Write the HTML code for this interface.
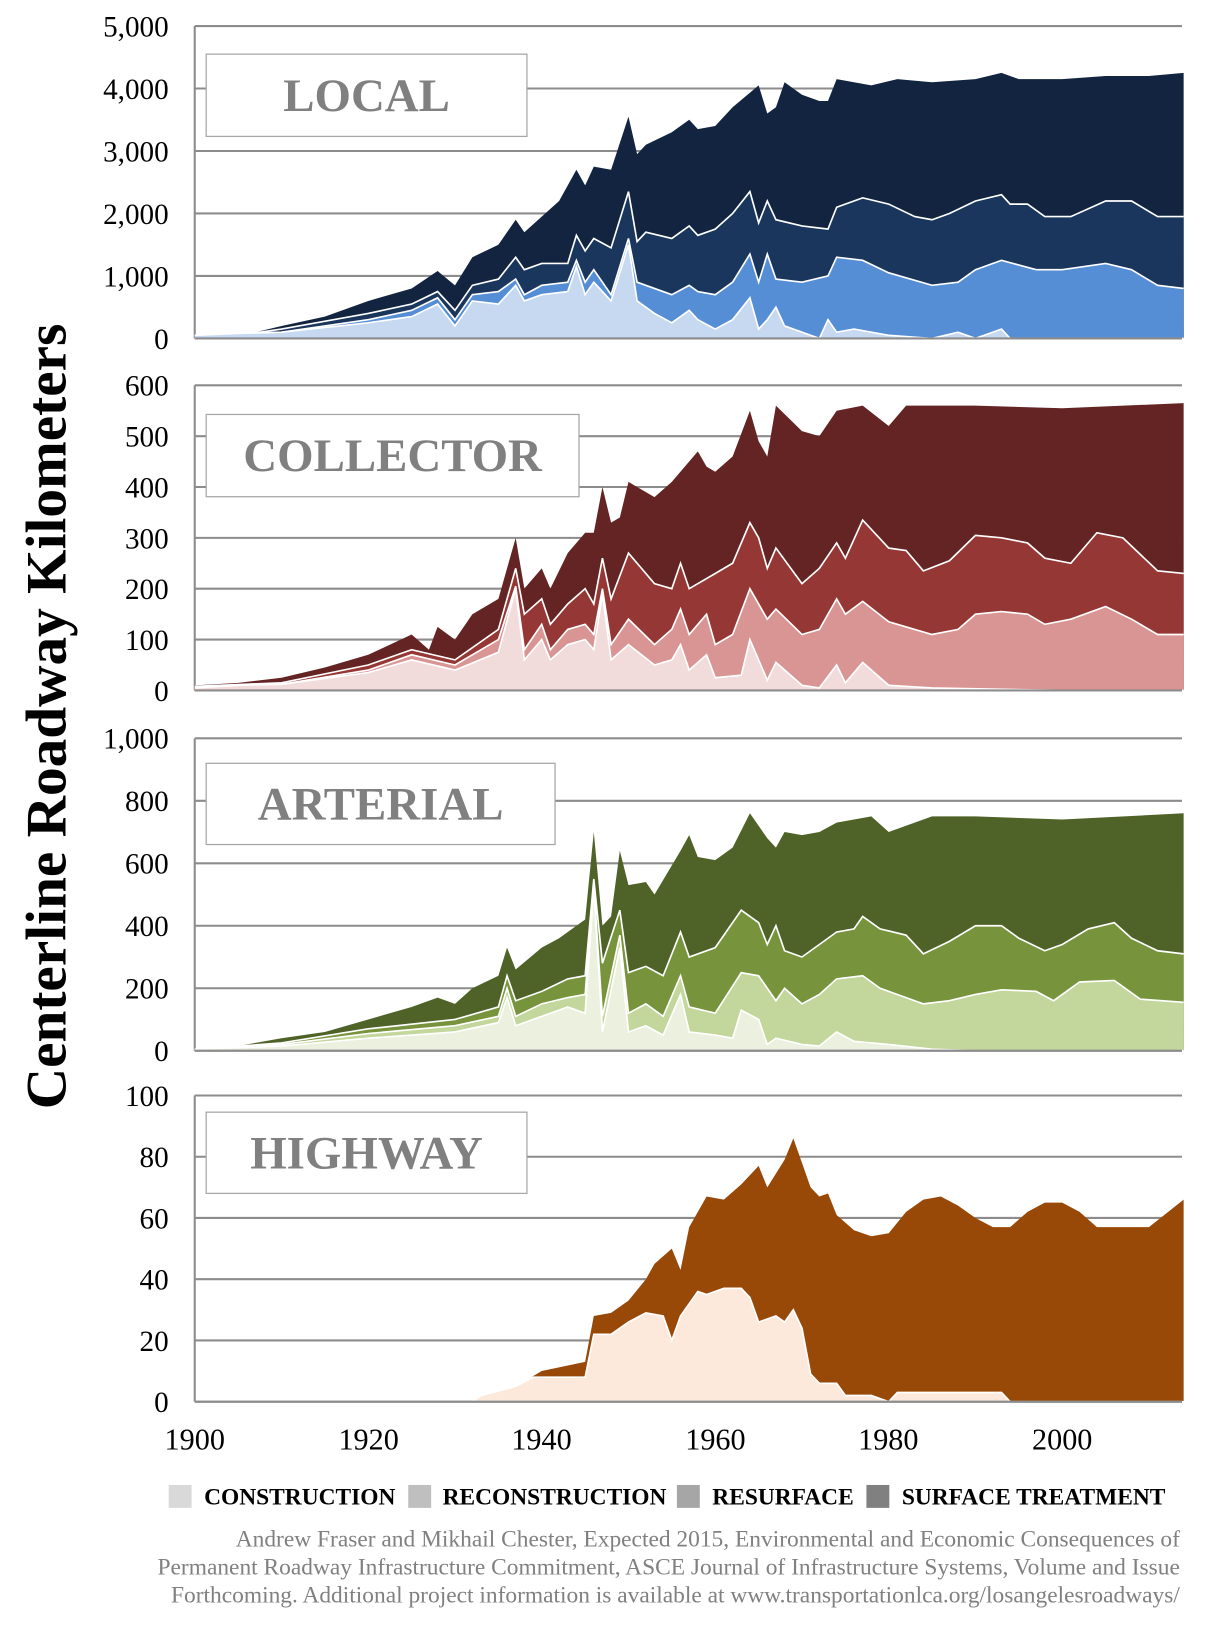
<!DOCTYPE html>
<html><head><meta charset="utf-8"><style>
html,body{margin:0;padding:0;background:#fff}
svg{display:block}
</style></head><body>
<svg id="s" width="1208" height="1647" viewBox="0 0 1160 1581.6" preserveAspectRatio="none" xmlns="http://www.w3.org/2000/svg" font-family="'Liberation Serif',serif">
<g id="plots"></g>
<g font-size="28" fill="#000" text-anchor="end" id="ticks"></g>
<text transform="translate(63,688) rotate(-90)" text-anchor="middle" font-size="55" font-weight="bold">Centerline Roadway Kilometers</text>
<g font-size="29" text-anchor="middle">
<text x="187" y="1392">1900</text><text x="354" y="1392">1920</text><text x="520" y="1392">1940</text><text x="687" y="1392">1960</text><text x="853" y="1392">1980</text><text x="1020" y="1392">2000</text>
</g>
<g font-size="22.5" font-weight="bold">
<rect x="162" y="1426" width="22" height="22" fill="#d9d9d9"/><text x="196" y="1445">CONSTRUCTION</text>
<rect x="392" y="1426" width="22" height="22" fill="#bfbfbf"/><text x="425" y="1445">RECONSTRUCTION</text>
<rect x="650" y="1426" width="22" height="22" fill="#a6a6a6"/><text x="684" y="1445">RESURFACE</text>
<rect x="832" y="1426" width="22" height="22" fill="#808080"/><text x="866" y="1445">SURFACE TREATMENT</text>
</g>
<g font-size="22.5" fill="#808080" text-anchor="end">
<text x="1133" y="1485">Andrew Fraser and Mikhail Chester, Expected 2015, Environmental and Economic Consequences of</text>
<text x="1133" y="1512">Permanent Roadway Infrastructure Commitment, ASCE Journal of Infrastructure Systems, Volume and Issue</text>
<text x="1133" y="1539">Forthcoming. Additional project information is available at www.transportationlca.org/losangelesroadways/</text>
</g>
</svg>
<script>
function X(y){return 187+(y-1900)*8.33;}
function P(a){var r=[];for(var i=0;i<a.length;i+=2)r.push([a[i],a[i+1]]);return r;}
var panels=[
{y0:325,top:25,vmax:5000,step:1000,label:"LOCAL",box:[198,52,308,79],
 cols:["#12243f","#1a365d","#558ed5","#c6d9f1"],
 s:[P([1900,0,1905,50,1907,100,1910,200,1915,350,1920,600,1925,800,1928,1080,1930,850,1932,1300,1935,1500,1937,1900,1938,1700,1940,1950,1942,2200,1944,2700,1945,2450,1946,2750,1948,2700,1950,3550,1951,2950,1952,3100,1955,3300,1957,3500,1958,3350,1960,3400,1962,3700,1965,4050,1966,3600,1967,3700,1968,4100,1970,3900,1972,3800,1973,3800,1974,4150,1978,4050,1981,4150,1985,4100,1990,4150,1993,4250,1995,4150,2000,4150,2005,4200,2010,4200,2014,4250]),
 P([1900,0,1905,50,1907,90,1910,150,1920,400,1925,550,1928,750,1930,450,1932,850,1935,950,1937,1300,1938,1100,1940,1200,1943,1200,1944,1650,1945,1400,1946,1600,1948,1450,1950,2350,1951,1550,1952,1700,1955,1600,1957,1800,1958,1650,1960,1750,1962,2000,1964,2350,1965,1850,1966,2200,1967,1900,1970,1800,1973,1750,1974,2100,1977,2250,1980,2150,1983,1950,1985,1900,1987,2000,1990,2200,1993,2300,1994,2150,1996,2150,1998,1950,2001,1950,2005,2200,2008,2200,2011,1950,2014,1950]),
 P([1900,0,1905,50,1907,80,1910,100,1920,300,1925,450,1928,650,1930,300,1932,700,1935,750,1937,950,1938,700,1940,850,1943,900,1944,1250,1945,900,1946,1100,1948,700,1950,1600,1951,900,1955,700,1957,850,1958,750,1960,700,1962,900,1964,1350,1965,900,1966,1350,1967,950,1970,900,1973,1000,1974,1300,1977,1250,1980,1050,1985,850,1988,900,1990,1100,1993,1250,1997,1100,2000,1100,2005,1200,2008,1100,2011,850,2014,800]),
 P([1900,50,1905,80,1910,100,1920,250,1925,350,1928,550,1930,200,1932,600,1935,550,1937,850,1938,600,1940,700,1943,750,1944,1150,1945,700,1946,900,1948,600,1950,1500,1951,600,1953,400,1955,250,1957,450,1958,300,1960,150,1962,300,1964,650,1965,150,1966,300,1967,500,1968,200,1970,100,1972,0,1973,300,1974,100,1976,150,1980,50,1985,0,1988,100,1990,0,1993,150,1994,0,2014,0])]},
{y0:663,top:370,vmax:600,step:100,label:"COLLECTOR",box:[198,398,358,79],
 cols:["#632423","#953735","#d99594","#f2dcdb"],
 s:[P([1900,10,1905,15,1910,25,1915,45,1920,70,1925,110,1927,80,1928,125,1930,100,1932,150,1935,180,1937,300,1938,200,1940,240,1941,200,1943,270,1945,310,1946,310,1947,400,1948,330,1949,340,1950,410,1953,380,1955,410,1958,470,1959,440,1960,430,1962,460,1964,550,1965,490,1966,460,1967,560,1970,510,1972,500,1974,550,1977,560,1980,520,1982,560,1990,560,2000,555,2014,565]),
 P([1900,8,1910,15,1920,50,1925,80,1930,60,1935,120,1937,240,1938,150,1940,180,1941,130,1943,170,1945,200,1946,170,1947,260,1948,180,1950,270,1953,210,1955,200,1956,250,1957,200,1960,230,1962,250,1964,330,1965,300,1966,240,1967,280,1970,210,1972,240,1974,290,1975,260,1977,335,1980,280,1982,275,1984,235,1987,255,1990,305,1993,300,1996,290,1998,260,2001,250,2004,310,2007,300,2011,235,2014,230]),
 P([1900,6,1910,12,1920,40,1925,70,1930,50,1935,100,1937,205,1938,80,1940,130,1941,80,1943,120,1945,130,1946,110,1947,200,1948,90,1950,140,1953,90,1955,120,1956,160,1957,110,1959,150,1960,90,1962,110,1964,200,1966,140,1967,160,1970,110,1972,120,1974,180,1975,150,1977,175,1980,135,1983,120,1985,110,1988,120,1990,150,1993,155,1996,150,1998,130,2001,140,2005,165,2008,140,2011,110,2014,110]),
 P([1900,5,1905,10,1910,12,1920,35,1925,60,1930,40,1935,75,1937,200,1938,60,1940,100,1941,60,1943,90,1945,100,1946,80,1947,190,1948,60,1950,90,1953,50,1955,60,1956,90,1957,40,1959,70,1960,25,1963,30,1964,100,1966,20,1967,55,1970,10,1972,5,1974,50,1975,15,1977,55,1980,10,1985,5,2000,0,2014,0])]},
{y0:1009,top:709,vmax:1000,step:200,label:"ARTERIAL",box:[198,733,335,78],
 cols:["#4f6228","#77933c","#c3d69b","#ebf1de"],
 s:[P([1900,5,1905,15,1910,40,1915,60,1920,100,1925,140,1928,170,1930,150,1932,200,1935,240,1936,330,1937,260,1940,330,1942,360,1944,400,1945,420,1946,700,1947,400,1948,430,1949,640,1950,530,1952,540,1953,500,1956,640,1957,690,1958,620,1960,610,1962,650,1964,760,1966,680,1967,650,1968,700,1970,690,1972,700,1974,730,1978,750,1980,700,1985,750,1990,750,2000,740,2014,760]),
 P([1900,4,1910,25,1920,70,1930,100,1935,140,1936,240,1937,160,1940,190,1943,230,1945,240,1946,550,1947,280,1949,450,1950,250,1952,270,1954,240,1956,380,1957,300,1960,330,1963,450,1965,410,1966,340,1967,400,1968,320,1970,300,1972,340,1974,380,1976,390,1977,430,1979,390,1982,370,1984,310,1987,350,1990,400,1993,400,1995,360,1998,320,2000,340,2003,390,2006,410,2008,360,2011,320,2014,310]),
 P([1900,4,1910,20,1920,55,1930,80,1935,110,1936,200,1937,110,1940,150,1943,170,1945,180,1946,530,1947,110,1949,370,1950,120,1952,150,1954,110,1956,240,1957,140,1960,120,1963,250,1965,240,1967,160,1968,200,1970,150,1972,180,1974,230,1977,240,1979,200,1982,170,1984,150,1987,160,1990,180,1993,195,1997,190,1999,160,2002,220,2006,225,2009,165,2014,155]),
 P([1900,5,1910,15,1920,40,1930,60,1935,90,1936,170,1937,80,1940,110,1943,140,1945,120,1946,520,1947,60,1949,330,1950,60,1952,80,1954,50,1956,180,1957,60,1960,50,1962,40,1963,130,1965,100,1966,20,1967,40,1970,20,1972,15,1974,60,1976,30,1980,20,1985,5,1990,0,2014,0])]},
{y0:1346,top:1052,vmax:100,step:20,label:"HIGHWAY",box:[198,1068,308,78],
 cols:["#984807","#fde9db"],
 s:[P([1900,0,1932,0,1933,2,1937,5,1940,10,1945,13,1946,28,1948,29,1950,33,1952,40,1953,45,1955,50,1956,43,1957,57,1959,67,1961,66,1963,71,1965,77,1966,70,1968,79,1969,86,1971,70,1972,67,1973,68,1974,61,1976,56,1978,54,1980,55,1982,62,1984,66,1986,67,1988,64,1990,60,1992,57,1994,57,1996,62,1998,65,2000,65,2002,62,2004,57,2006,57,2010,57,2014,66]),
 P([1900,0,1932,0,1933,2,1937,5,1939,8,1945,8,1946,22,1948,22,1950,26,1952,29,1954,28,1955,20,1956,28,1958,36,1959,35,1961,37,1963,37,1964,34,1965,26,1967,28,1968,26,1969,30,1970,24,1971,9,1972,6,1974,6,1975,2,1978,2,1980,0,1981,3,1993,3,1994,0,2014,0])]}
];
var g=document.getElementById("plots"),tk=document.getElementById("ticks"),h="",t="";
panels.forEach(function(p){
 var Y=function(v){return p.y0-(v/p.vmax)*(p.y0-p.top);};
 for(var v=0;v<=p.vmax;v+=p.step){
  var y=Y(v);
  h+='<line x1="187" x2="1135" y1="'+y+'" y2="'+y+'" stroke="#8c8c8c" stroke-width="2"/>';
  var lab=v>=1000?(Math.floor(v/1000)+","+String(v%1000).padStart(3,"0")):String(v);
  t+='<text x="162" y="'+(y+10)+'">'+lab+'</text>';
 }
 h+='<line x1="187" x2="187" y1="'+p.top+'" y2="'+p.y0+'" stroke="#8c8c8c" stroke-width="2"/>';
 p.s.forEach(function(s,i){
  var pts=s.map(function(q){return X(q[0]).toFixed(1)+","+Y(q[1]).toFixed(1);});
  var d="M"+X(s[0][0])+","+p.y0+" L"+pts.join(" L")+" L"+X(s[s.length-1][0])+","+p.y0+"Z";
  h+='<path d="'+d+'" fill="'+p.cols[i]+'"/>';
  if(i>0)h+='<polyline points="'+pts.join(" ")+'" fill="none" stroke="#fff" stroke-width="1.6"/>';
 });
 h+='<line x1="187" x2="1135" y1="'+p.y0+'" y2="'+p.y0+'" stroke="#8c8c8c" stroke-width="2"/>';
 var b=p.box;
 h+='<rect x="'+b[0]+'" y="'+b[1]+'" width="'+b[2]+'" height="'+b[3]+'" fill="#fff" stroke="#a6a6a6" stroke-width="1.2"/>';
 h+='<text x="'+(b[0]+b[2]/2)+'" y="'+(b[1]+b[3]/2+15)+'" text-anchor="middle" font-size="45" font-weight="bold" fill="#808080">'+p.label+'</text>';
});
g.innerHTML=h;tk.innerHTML=t;
</script>
</body></html>
